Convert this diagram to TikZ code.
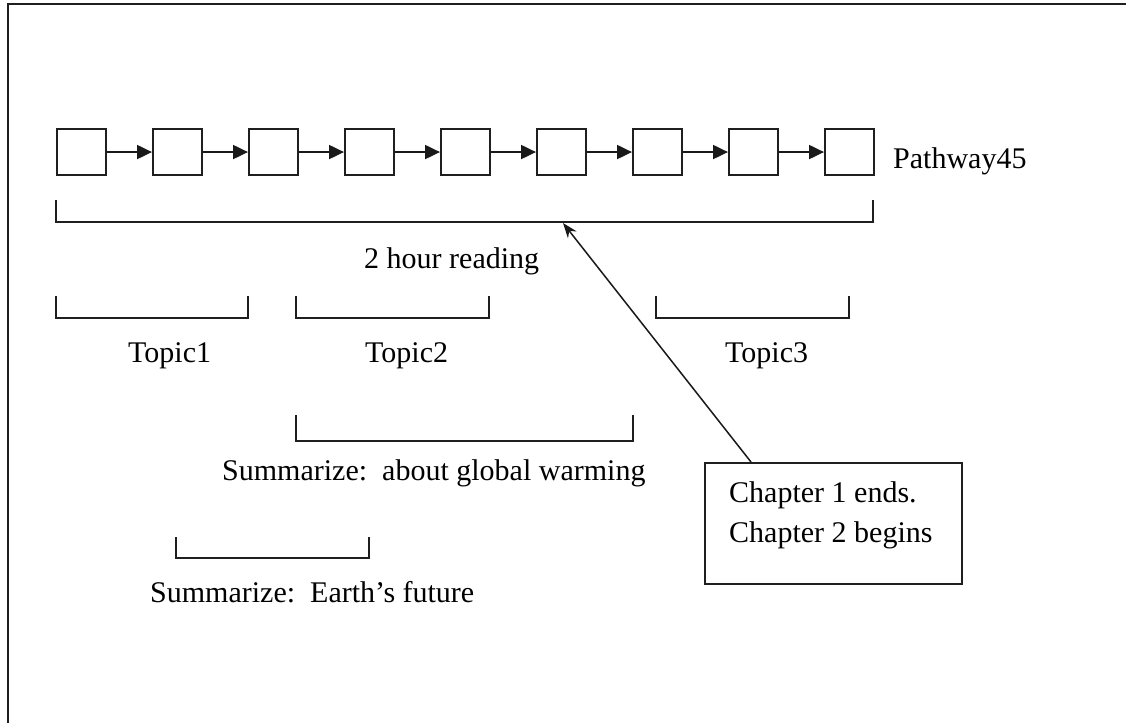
\documentclass[tikz,border=0pt]{standalone}
\usepackage{fontspec}
\setmainfont{Liberation Serif}
\usetikzlibrary{arrows.meta}
\begin{document}
\begin{tikzpicture}[x=1pt,y=-1pt,
  ink/.style={draw=black!88, line width=2.1pt},
  cell/.style={ink, minimum width=49pt, minimum height=46pt, inner sep=0pt, anchor=north west},
  link/.style={draw=black!90, line width=2pt, -{Triangle[length=15pt,width=14pt]}},
  pointer/.style={draw=black!90, line width=1.5pt, -{Stealth[length=15pt,width=11pt]}},
  bracket/.style={ink, line join=miter},
  lbl/.style={anchor=base west, inner sep=0pt, font=\fontsize{30}{37}\selectfont}]
\useasboundingbox (0,0) rectangle (1126,723);
\fill[white] (0,0) rectangle (1126,723);
% frame (top and left edges only)
\draw[ink] (8,723) -- (8,4) -- (1126,4);

% chain of reading units
\foreach \i in {1,...,9}
  \node[cell] (b\i) at ({56+96*(\i-1)},128) {};
\foreach \i in {1,...,8}{
  \pgfmathtruncatemacro{\j}{\i+1}
  \draw[link] (b\i.east) -- (b\j.west);
}
\node[lbl] (path) at (893,168) {Pathway45};

% overall span
\draw[bracket] (56,200) -- (56,222) coordinate (spanL) -- (873,222) coordinate (spanR) -- (873,200);
\node[lbl] (reading) at (364,268) {2 hour reading};

% topic spans
\draw[bracket] (56,296) -- (56,318) -- (248,318) -- (248,296);
\draw[bracket] (296,296) -- (296,318) -- (489,318) -- (489,296);
\draw[bracket] (656,296) -- (656,318) -- (849,318) -- (849,296);
\node[lbl] (t1) at (128,362) {Topic1};
\node[lbl] (t2) at (365,362) {Topic2};
\node[lbl] (t3) at (725,362) {Topic3};

% summaries
\draw[bracket] (296,415) -- (296,441) -- (633,441) -- (633,415);
\node[lbl] (sum1) at (222,480) {Summarize:\ \ about global warming};
\draw[bracket] (176,537) -- (176,558) -- (369,558) -- (369,537);
\node[lbl] (sum2) at (150,602) {Summarize:\ \ Earth’s future};

% callout
\node[ink, draw, minimum width=257pt, minimum height=121pt, inner sep=0pt, anchor=north west] (note) at (704,462) {};
\node[lbl] (c1) at (729,502) {Chapter 1 ends.};
\node[lbl] (c2) at (729,542) {Chapter 2 begins};
\coordinate (tail) at (751,462);
\coordinate (tip) at (563,223);
\draw[pointer] (tail) -- (tip);
\end{tikzpicture}
\end{document}
